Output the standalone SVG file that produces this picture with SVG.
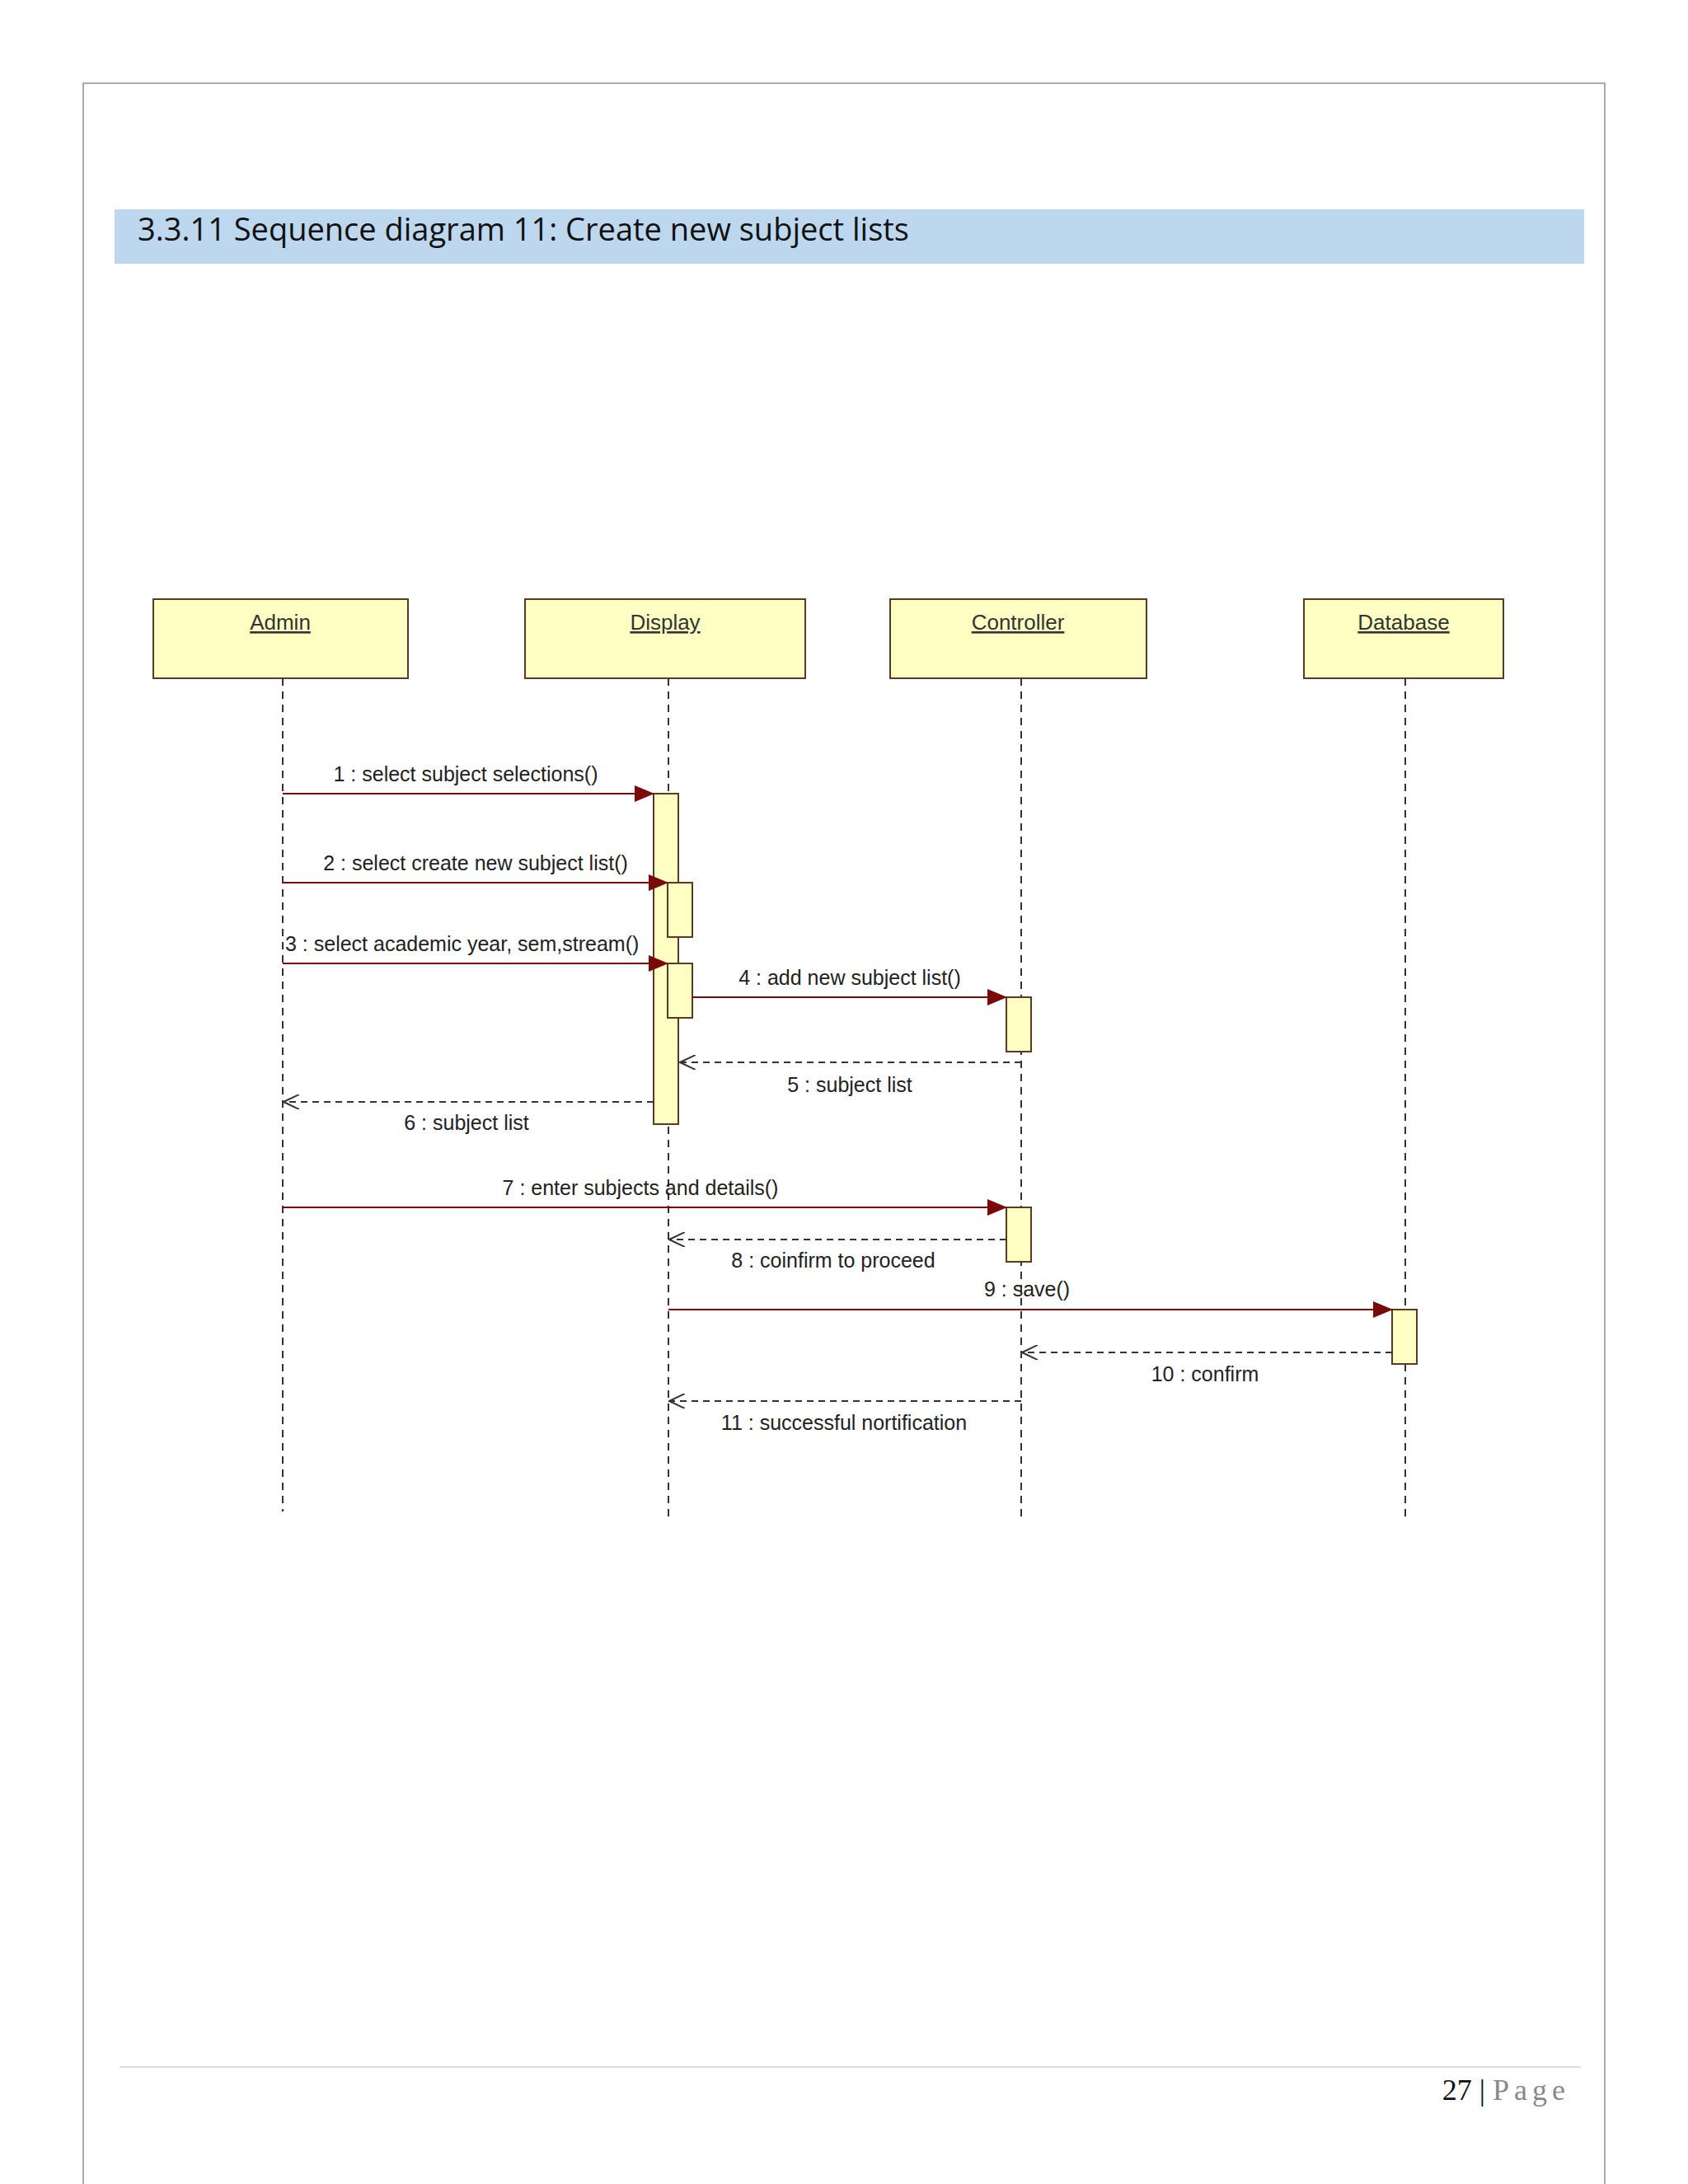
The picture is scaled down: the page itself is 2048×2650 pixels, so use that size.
<svg xmlns="http://www.w3.org/2000/svg" width="2048" height="2650" viewBox="0 0 2048 2650">
<style>
.box{fill:#ffffc4;stroke:#5a3a20;stroke-width:2}
.act{fill:#ffffc4;stroke:#5a3a20;stroke-width:2}
.life{stroke:#333;stroke-width:2;stroke-dasharray:9,7}
.msg{stroke:#7a0a0a;stroke-width:2;fill:none}
.ret{stroke:#333;stroke-width:2;stroke-dasharray:8,6;fill:none}
.lbl{font-family:"Liberation Sans",Arial,sans-serif;font-size:25px;fill:#222;text-anchor:middle}
.nm{font-family:"Liberation Sans",Arial,sans-serif;font-size:26px;fill:#333;text-anchor:middle;text-decoration:underline}
</style>
<defs>
<marker id="fill" markerWidth="24" markerHeight="20" refX="23" refY="10" orient="auto" markerUnits="userSpaceOnUse"><path d="M0,0 L24,10 L0,20 Z" fill="#7a0a0a"/></marker>
<marker id="open" markerWidth="20" markerHeight="18" refX="19" refY="9" orient="auto" markerUnits="userSpaceOnUse"><path d="M0,0 L19,9 L0,18" fill="none" stroke="#333" stroke-width="2"/></marker>
</defs>
<rect width="2048" height="2650" fill="#fff"/>
<rect x="101" y="101" width="1846" height="2600" fill="none" stroke="#aaa" stroke-width="2"/>
<rect x="139" y="254" width="1783" height="66" fill="#bdd7ee"/>
<text x="167" y="292" font-family="'Open Sans','Noto Sans',sans-serif" font-size="38" fill="#111">3.3.11 Sequence diagram 11: Create new subject lists</text>

<g id="admin"><rect class="box" x="186" y="727" width="309" height="96"/><text class="nm" x="340" y="764">Admin</text><line class="life" x1="343" y1="823" x2="343" y2="1834"/></g>
<g id="display"><rect class="box" x="637" y="727" width="340" height="96"/><text class="nm" x="807" y="764">Display</text><line class="life" x1="811" y1="823" x2="811" y2="1847"/></g>
<g id="controller"><rect class="box" x="1080" y="727" width="311" height="96"/><text class="nm" x="1235" y="764">Controller</text><line class="life" x1="1239" y1="823" x2="1239" y2="1847"/></g>
<g id="database"><rect class="box" x="1582" y="727" width="242" height="96"/><text class="nm" x="1703" y="764">Database</text><line class="life" x1="1705" y1="823" x2="1705" y2="1847"/></g>

<g id="activations">
<rect class="act" x="793" y="963" width="30" height="401"/>
<rect class="act" x="810" y="1071" width="30" height="66"/>
<rect class="act" x="810" y="1169" width="30" height="66"/>
<rect class="act" x="1221" y="1210" width="30" height="66"/>
<rect class="act" x="1221" y="1465" width="30" height="66"/>
<rect class="act" x="1689" y="1589" width="30" height="66"/>
</g>

<g id="connectors">
<line class="msg" x1="343" y1="963" x2="793" y2="963" marker-end="url(#fill)"/>
<line class="msg" x1="343" y1="1071" x2="810" y2="1071" marker-end="url(#fill)"/>
<line class="msg" x1="343" y1="1169" x2="810" y2="1169" marker-end="url(#fill)"/>
<line class="msg" x1="840" y1="1210" x2="1221" y2="1210" marker-end="url(#fill)"/>
<line class="ret" x1="1239" y1="1289" x2="825" y2="1289" marker-end="url(#open)"/>
<line class="ret" x1="793" y1="1337" x2="344" y2="1337" marker-end="url(#open)"/>
<line class="msg" x1="343" y1="1465" x2="1221" y2="1465" marker-end="url(#fill)"/>
<line class="ret" x1="1221" y1="1504" x2="812" y2="1504" marker-end="url(#open)"/>
<line class="msg" x1="811" y1="1589" x2="1689" y2="1589" marker-end="url(#fill)"/>
<line class="ret" x1="1689" y1="1641" x2="1240" y2="1641" marker-end="url(#open)"/>
<line class="ret" x1="1239" y1="1700" x2="812" y2="1700" marker-end="url(#open)"/>
</g>

<g id="labels">
<text class="lbl" x="565" y="948">1 : select subject selections()</text>
<text class="lbl" x="577" y="1056">2 : select create new subject list()</text>
<text class="lbl" x="346" y="1154" style="text-anchor:start">3 : select academic year, sem,stream()</text>
<text class="lbl" x="1031" y="1195">4 : add new subject list()</text>
<text class="lbl" x="1031" y="1325">5 : subject list</text>
<text class="lbl" x="566" y="1371">6 : subject list</text>
<text class="lbl" x="777" y="1450">7 : enter subjects and details()</text>
<text class="lbl" x="1011" y="1538">8 : coinfirm to proceed</text>
<text class="lbl" x="1246" y="1573">9 : save()</text>
<text class="lbl" x="1462" y="1676">10 : confirm</text>
<text class="lbl" x="1024" y="1735">11 : successful nortification</text>
</g>

<line x1="145" y1="2508" x2="1918" y2="2508" stroke="#ddd" stroke-width="2"/>
<text x="1905" y="2548" font-family="'Liberation Serif',serif" font-size="36" text-anchor="end"><tspan fill="#111">27 | </tspan><tspan fill="#888" letter-spacing="6">Page</tspan></text>
</svg>
